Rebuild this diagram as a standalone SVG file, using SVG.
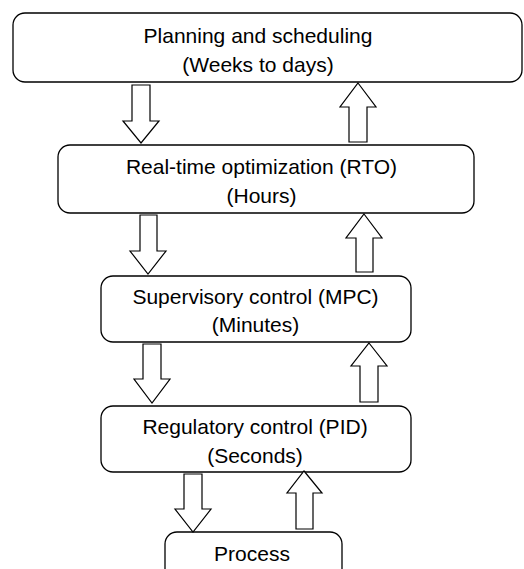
<svg xmlns="http://www.w3.org/2000/svg" width="524" height="569" viewBox="0 0 524 569">
  <style>
    .box { fill: #ffffff; stroke: #000000; stroke-width: 1.3; }
    .arrow { fill: #ffffff; stroke: #000000; stroke-width: 1.2; stroke-linejoin: miter; }
    .label { font-family: "Liberation Sans", Arial, sans-serif; font-size: 21px; fill: #000000; text-anchor: middle; }
  </style>
  <rect width="524" height="569" fill="#ffffff"/>

  <g id="planning">
    <rect class="box" x="13" y="13" width="509" height="69" rx="12"/>
    <text class="label" x="258" y="43">Planning and scheduling</text>
    <text class="label" x="258" y="72">(Weeks to days)</text>
  </g>

  <g id="rto">
    <rect class="box" x="58" y="145" width="416" height="68" rx="12"/>
    <text class="label" x="261.5" y="174">Real-time optimization (RTO)</text>
    <text class="label" x="261.5" y="203">(Hours)</text>
  </g>

  <g id="mpc">
    <rect class="box" x="101" y="276" width="310" height="66" rx="12"/>
    <text class="label" x="255.5" y="304">Supervisory control (MPC)</text>
    <text class="label" x="255.5" y="332">(Minutes)</text>
  </g>

  <g id="pid">
    <rect class="box" x="101" y="406" width="310" height="66" rx="12"/>
    <text class="label" x="255" y="434">Regulatory control (PID)</text>
    <text class="label" x="255" y="463">(Seconds)</text>
  </g>

  <g id="process">
    <rect class="box" x="165" y="532" width="177" height="60" rx="12"/>
    <text class="label" x="252" y="561">Process</text>
  </g>

  <g id="connectors">
    <!-- downward block arrows (set-points) -->
    <polygon class="arrow" points="132,85 150,85 150,121 159,121 141,143 123,121 132,121"/>
    <polygon class="arrow" points="140,215 157,215 157,251 166,251 148,274 130,251 140,251"/>
    <polygon class="arrow" points="143,344 161,344 161,379 170,379 152,403 134,379 143,379"/>
    <polygon class="arrow" points="184,474 202,474 202,509 211,509 193,532 175,509 184,509"/>
    <!-- upward block arrows (feedback) -->
    <polygon class="arrow" points="358,83 376,107 367,107 367,142 349,142 349,107 340,107"/>
    <polygon class="arrow" points="364,214 382,238 373,238 373,272 356,272 356,238 346,238"/>
    <polygon class="arrow" points="369,343 387,366 378,366 378,402 360,402 360,366 351,366"/>
    <polygon class="arrow" points="304,471 322,493 313,493 313,529 296,529 296,493 287,493"/>
  </g>
</svg>
